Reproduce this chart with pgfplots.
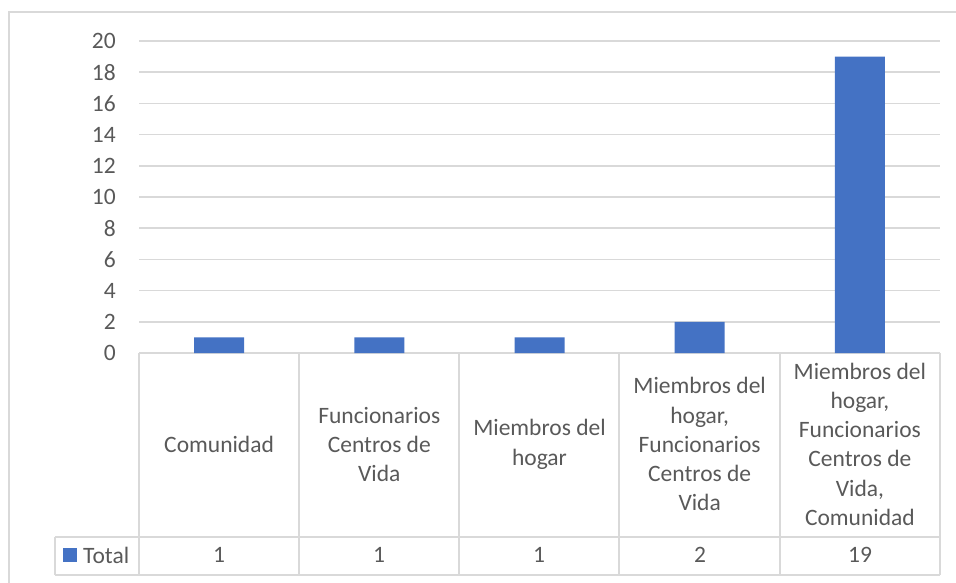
\documentclass[border=0pt]{standalone}
\usepackage{pgfplots}
\pgfplotsset{compat=1.18}
\usepackage{fontspec}
\setmainfont{Carlito}
\definecolor{barblue}{HTML}{4472C4}
\definecolor{gridgray}{HTML}{D9D9D9}
\definecolor{txtgray}{HTML}{595959}
\begin{document}
\begin{tikzpicture}
\fontsize{23.5}{29.2}\selectfont
\path[use as bounding box] (0pt,0pt) rectangle (956pt,-582pt);
\draw[gridgray, line width=1.5pt] (9pt,-584pt) -- (9pt,-12pt) -- (958pt,-12pt);
\begin{axis}[
  at={(139pt,-353pt)}, anchor=south west,
  scale only axis, width=801pt, height=312pt,
  xmin=-0.5, xmax=4.5, ymin=0, ymax=20,
  ytick={0,2,...,20},
  xtick={0,1,2,3,4},
  xticklabels={Comunidad,{Funcionarios\\Centros de\\Vida},{Miembros del\\hogar},{Miembros del\\hogar,\\Funcionarios\\Centros de\\Vida},{Miembros del\\hogar,\\Funcionarios\\Centros de\\Vida,\\Comunidad}},
  axis line style={draw=none},
  tick style={draw=none},
  ymajorgrids,
  grid style={gridgray, line width=1.5pt},
  ticklabel style={font=\fontsize{23.5}{29.2}\selectfont, text=txtgray},
  yticklabel style={inner sep=0pt, xshift=-23pt},
  /pgf/number format/assume math mode=true,
  xticklabel style={align=center, anchor=center, yshift=-87pt},
  ybar, bar width=50pt,
  clip=false,
]
\addplot[fill=barblue, draw=none] coordinates {(0,1) (1,1) (2,1) (3,2) (4,19)};
\end{axis}
\begin{scope}[gridgray, line width=1.5pt]
\foreach \xx in {139,299,459,619,780,940} {\draw (\xx pt,-353pt) -- (\xx pt,-575pt);}
\draw (55pt,-537pt) -- (940pt,-537pt);
\draw (55pt,-575pt) -- (940pt,-575pt);
\draw (55pt,-537pt) -- (55pt,-575pt);
\end{scope}
\fill[barblue] (63pt,-548pt) rectangle (77pt,-562pt);
\node[anchor=west, text=txtgray, inner sep=0pt] at (83pt,-555pt) {Total};
\foreach \xx/\vv in {219/1,379/1,539/1,700/2,860/19} {\node[text=txtgray] at (\xx pt,-555pt) {\vv};}
\end{tikzpicture}
\end{document}
